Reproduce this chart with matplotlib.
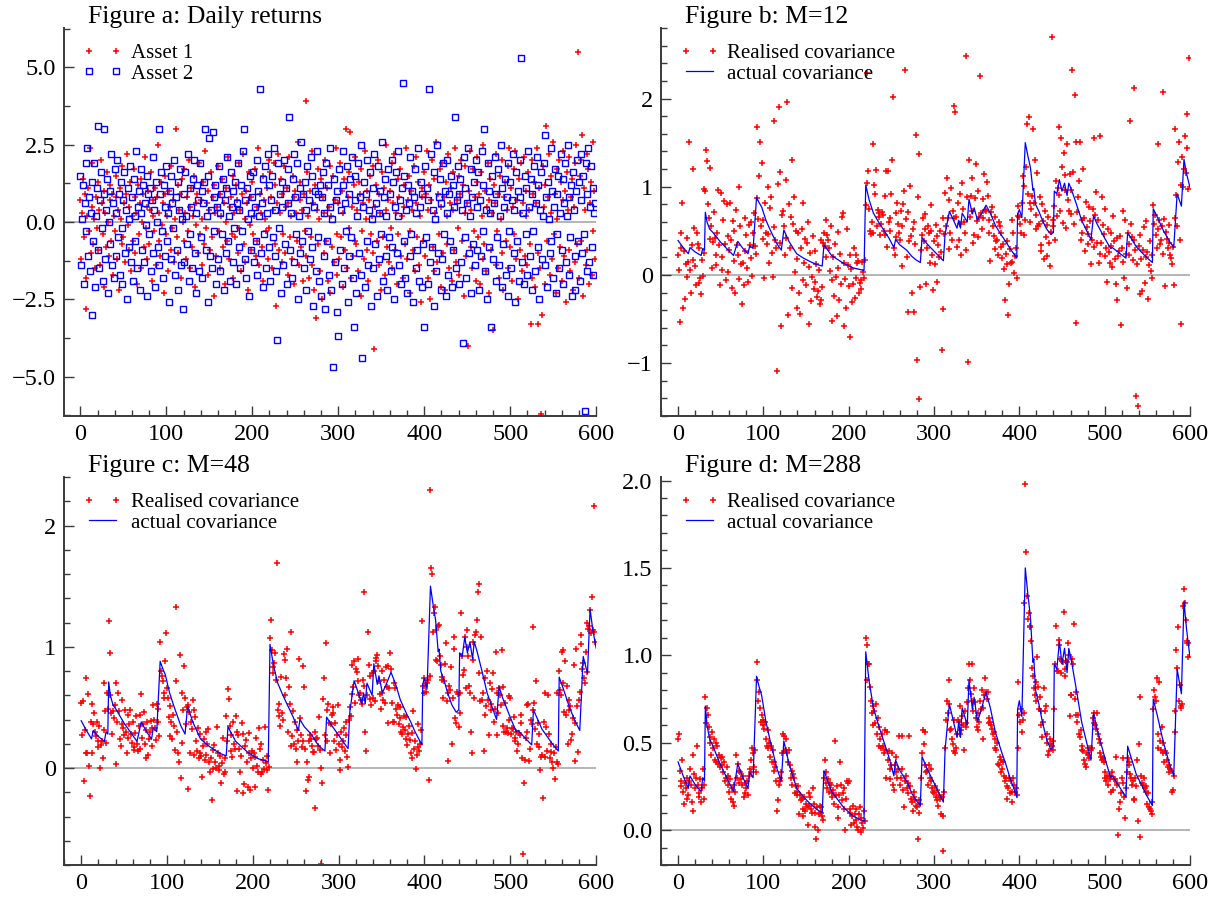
import numpy as np
import matplotlib
matplotlib.use("Agg")
import matplotlib.pyplot as plt
from matplotlib.ticker import MultipleLocator

plt.rcParams['font.family'] = ['Liberation Serif', 'DejaVu Serif']

asset1 = [
    0.7, -1.2, 0.3, 1.4, -0.5, 0.9, -1.8, -2.8, 0.2, 1.1, -0.3, 2.4, -1.0, 0.5, 1.9, -0.7, 0.1, -1.5, 0.8, -0.2,
    1.3, -0.9, 0.4, -1.4, 2.0, 0.6, -0.4, 1.0, -2.1, 0.3, -0.8, 1.6, 0.0, -1.1, 0.7, 1.2, -0.6, 0.9, -1.7, 0.2,
    -0.3, 1.5, 0.8, -1.2, 0.4, -2.2, 1.1, 0.1, -0.7, 1.8, -0.5, 0.6, -1.3, 0.9, 2.2, -0.1, -0.9, 0.5, 1.3, -1.6,
    0.2, -0.6, 1.7, -1.0, 0.8, 0.3, -2.0, 1.2, -0.4, 0.6, 1.4, -1.5, 0.0, 0.9, -0.8, 2.1, -0.2, 0.5, -1.2, 1.0,
    -0.7, 0.4, 1.6, -1.9, 0.2, 0.7, -0.3, 1.1, -1.4, 0.8, 2.5, -0.6, 0.3, -1.1, 1.3, -0.1, 0.6, -2.3, 0.9, 1.5,
    -0.4, 0.2, -1.6, 1.0, 0.5, -0.9, 1.8, -0.2, 0.7, -1.3, 0.1, 3.0, -0.5, 1.2, -1.0, 0.4, 0.9, -1.8, 1.4, 0.0,
    -0.6, 1.7, 0.3, -1.2, 0.8, -0.3, 2.0, -1.5, 0.5, 1.1, -0.8, 0.2, 1.5, -2.1, 0.6, -0.1, 0.9, -1.0, 1.9, -0.4,
    0.7, -1.4, 0.1, 1.3, -0.7, 2.3, -0.2, 0.6, -1.7, 1.0, 0.4, -0.9, 1.6, -0.5, 0.8, -2.4, 1.2, 0.3, -1.1, 0.5,
    1.8, -0.3, 0.9, -1.5, 0.2, 1.4, -0.8, 0.6, -2.0, 1.1, 0.0, -0.6, 2.1, -1.2, 0.5, 0.8, -0.4, 1.5, -1.8, 0.3,
    -0.5, 1.2, 0.7, -1.0, 1.9, -0.2, 0.4, -1.6, 0.9, 2.2, -0.7, 0.1, -1.3, 1.0, 0.6, -2.2, 1.6, -0.1, 0.8, -0.9,
    1.3, -0.4, 0.2, 1.7, -1.1, 0.5, -0.6, 2.4, -1.4, 0.9, 0.3, -0.8, 1.5, -1.9, 0.7, 0.1, -0.3, 1.1, -1.2, 2.0,
    -0.2, 1.6, 0.8, -1.5, 0.4, 1.9, -0.7, 1.2, -2.7, 0.6, 2.2, -0.9, 0.3, 1.4, -1.3, 0.9, -0.4, 1.8, -1.0, 0.5,
    1.1, -1.7, 0.6, 2.1, -0.5, 0.2, -1.2, 1.5, 0.8, -2.0, 1.0, 0.3, -0.6, 2.6, -1.4, 0.7, 1.3, -0.8, 0.4, -1.9,
    0.9, -0.3, 3.9, -1.1, 1.6, 0.2, -1.8, 1.0, -0.5, 2.3, -1.4, 0.6, -2.2, 1.2, -3.1, 0.4, 1.7, -0.7, 0.1, -1.6,
    1.4, -2.5, 0.8, 0.3, -1.0, 2.0, -0.6, 1.1, -1.9, 0.5, 1.8, -2.3, 0.2, -0.8, 1.5, -1.3, 0.7, 2.4, -0.4, -1.7,
    0.6, -1.2, 1.9, -0.5, 1.0, -2.1, 0.3, 1.4, -0.9, 3.0, -1.5, 0.8, -0.2, 1.6, 2.9, -1.8, 0.5, -1.1, 1.2, -0.6,
    2.1, -0.7, 0.4, -1.6, 1.3, 0.9, -2.4, 1.7, -0.3, 0.6, -1.2, 2.3, 0.1, -0.9, 1.0, -1.9, 0.7, 1.5, -0.4, 0.2,
    1.8, -1.0, -4.1, 0.5, 1.2, -0.6, 2.0, -1.4, 0.9, 0.3, -2.2, 1.6, -0.5, 1.1, -1.7, 0.4, 2.5, -0.8, 0.7, -1.3,
    1.0, -0.2, 1.9, -1.5, 0.6, 2.2, -0.9, 0.3, -2.0, 1.4, -0.4, 0.8, 1.7, -1.1, 0.2, -1.8, 1.2, 0.5, -0.7, 2.4,
    -1.2, 0.7, 1.5, -0.3, -2.3, 1.0, 0.4, -0.9, 1.8, -1.6, 0.6, 2.1, -0.5, 1.3, -1.4, 0.2, -2.6, 1.1, 0.8, -0.6,
    1.6, -1.1, 0.9, 2.3, -1.8, 0.4, 1.2, -2.5, 0.7, 2.0, -0.8, 1.4, -1.6, 0.3, 2.6, -1.3, 0.9, -0.4, 1.7, -2.1,
    0.5, 1.9, -1.0, 0.8, -2.2, 1.3, 0.2, -0.7, 2.2, -1.5, 0.6, 1.1, -1.9, 0.4, 1.6, -0.9, 2.4, -1.3, 0.7, -0.2,
    1.5, -1.7, 0.9, 2.0, -0.6, 1.2, -2.4, 0.3, 1.8, -1.1, 0.6, -4.0, 1.0, 2.3, -0.8, 0.4, -1.5, 1.7, -0.3, 0.8,
    -1.9, 1.3, 2.1, -0.5, 0.9, -2.0, 1.6, 0.2, -1.2, 2.5, -0.7, 1.0, -1.6, 0.5, 1.9, -2.3, 0.7, 1.4, -0.9, 0.3,
    -3.5, 1.2, 0.6, -1.4, 2.2, -0.3, 0.9, -1.8, 1.5, 0.1, -1.0, 2.0, -2.2, 0.8, 1.3, -0.6, 0.4, -1.5, 1.8, 2.4,
    -0.8, 1.1, -1.9, 0.5, 1.7, -0.4, 2.3, -1.2, 0.7, -2.5, 1.4, 0.3, -0.9, 1.9, -1.6, 0.6, 2.1, -1.1, 0.2, 1.0,
    -1.4, 1.6, 0.4, -0.7, -3.3, 2.0, -1.8, 0.9, 1.3, -2.1, 0.6, 2.4, -1.0, -3.3, 1.1, -1.5, -6.2, -3.0, 1.8, 0.5,
    -2.0, 1.2, 3.1, -0.6, 0.8, 2.2, -1.7, 0.3, 1.5, -1.2, 2.6, -0.4, 0.9, -2.3, 1.7, 0.1, -1.5, 2.0, -0.8, 1.3,
    -1.9, 0.7, 2.3, -1.1, 1.0, -2.6, 1.6, 0.4, -0.9, 2.1, -1.6, 0.8, 1.4, -2.2, 0.5, 1.9, -1.3, 2.5, -0.7, 5.5,
    -1.8, 1.5, -0.6, 2.0, 2.8, -2.4, 1.1, 0.4, -1.4, 2.2, -0.9, 1.7, -2.0, 0.6, 1.3, -1.7, 2.6, -0.3, 1.0, -1.2,
]
asset2 = [
    1.5, -1.4, 0.1, 1.2, -2.0, 0.6, -0.3, 1.9, 2.4, -1.1, 0.8, -1.6, 0.3, -3.0, 1.3, -0.6, 1.9, -2.1, 0.2, 1.1,
    -0.9, 3.1, -1.5, 0.7, 1.6, -0.2, -1.9, 0.9, 3.0, -1.2, 0.4, 1.4, -2.3, 0.0, 1.0, -0.7, 2.2, -1.4, 0.6, -1.8,
    1.7, 0.3, -1.1, 2.0, -0.5, 0.9, -1.7, 1.3, -0.2, -2.0, 0.7, 1.6, -1.0, 0.4, -2.5, 1.1, 0.1, -0.8, 1.8, -1.3,
    0.8, -1.9, 1.4, 0.2, -0.6, 2.3, -1.5, 0.5, 1.0, -2.2, 0.3, 1.7, -0.9, 1.2, -1.3, 0.6, -0.1, 1.5, -2.4, 0.9,
    -0.4, 1.1, -1.6, 0.7, 2.1, -1.0, 0.4, -2.1, 1.3, 0.0, -0.8, 3.0, -1.4, 0.9, 1.6, -0.3, -1.8, 1.2, 0.5, -1.1,
    1.8, -0.6, 0.3, -2.6, 1.0, 1.5, -1.2, 0.6, -0.2, 2.0, -1.7, 0.8, -0.9, 1.3, -2.2, 0.4, 1.7, -1.4, 0.1, -2.8,
    0.9, -1.3, 1.6, 0.2, -0.7, 2.2, -1.9, 1.1, -0.4, 0.5, -1.5, 1.4, 2.0, -1.0, 0.3, -2.3, 1.2, 0.7, -1.6, 1.9,
    -0.5, 1.0, -1.8, 0.6, 1.3, 3.0, -0.9, 0.2, -2.6, 1.5, 2.7, -1.1, 0.4, -1.5, 2.9, 0.8, -0.3, 1.2, -2.0, 0.5,
    -1.2, 1.8, 0.3, -1.6, 0.9, -0.4, 1.4, -2.2, 0.7, 1.1, -1.0, 2.1, -0.6, 0.2, -1.9, 1.6, 0.5, -1.3, 1.0, -0.2,
    1.3, -2.0, 0.6, 1.9, -0.8, 0.4, -1.5, 1.2, -0.3, 2.3, 3.0, -1.2, 0.7, -1.8, 1.1, 0.1, -2.4, 1.5, 0.3, -0.9,
    0.8, 1.6, -1.3, 0.5, -0.6, 2.0, -1.7, 1.0, 0.2, 4.3, -1.0, 0.6, -2.1, 1.4, -0.4, 1.8, -1.5, 0.3, 2.2, -0.8,
    1.2, -1.9, 0.7, 1.5, -0.5, 2.4, -1.1, 0.4, -1.6, -3.8, 1.9, -0.2, 0.9, -2.3, 1.3, 0.5, -1.4, 2.0, -0.7, 1.1,
    -2.0, 0.6, 1.7, 3.4, -0.9, 0.3, -1.8, 1.4, 2.2, -1.3, 0.8, -0.4, 1.9, -2.5, 0.2, 1.1, -1.0, 2.6, -0.6, 0.9,
    -1.5, 1.3, 0.4, -2.2, 1.8, -0.3, 0.7, -1.2, 2.1, -0.8, 1.5, -2.7, 0.5, 1.0, -1.6, 2.3, -0.5, 0.9, -1.9, 1.2,
    -2.4, 0.8, 1.6, -1.1, 0.3, -2.8, 1.9, -0.6, 1.2, -1.7, 0.5, 2.4, -2.2, 0.1, -4.7, 1.4, -1.3, 0.7, -2.9, 1.0,
    -3.7, 1.7, -0.9, 0.4, -2.0, 1.2, 2.3, -1.5, 0.6, -0.3, 1.8, -2.6, 0.9, -1.1, 1.4, -0.5, 2.1, -1.8, -3.4, 0.7,
    1.5, -2.3, 0.2, 1.9, -1.0, 0.8, -1.7, 2.5, -4.4, 0.5, 1.3, -2.1, 0.9, -0.6, 2.0, -1.4, 0.4, 1.6, -2.7, 0.1,
    1.1, -1.5, 2.2, -0.7, 0.6, -2.4, 1.8, 0.3, -1.2, 1.0, -0.4, 2.6, -1.9, 0.8, 1.4, -1.1, 0.2, -2.2, 1.7, -0.5,
    0.9, -1.6, 2.0, -0.8, 1.3, -2.5, 0.5, 1.6, -1.0, 0.2, 2.3, -1.4, 0.7, -2.0, 1.1, 4.5, -0.6, 1.5, -1.8, 0.4,
    -2.3, 1.2, 0.6, -1.1, 2.1, -0.4, 1.0, -2.6, 0.8, 1.7, -1.5, 0.3, -0.9, 2.4, -1.9, 0.5, 1.3, -2.1, 0.9, -0.7,
    -3.4, 1.8, -0.5, 1.1, -2.0, 0.7, 4.3, -1.3, 2.2, -0.8, 0.4, -2.7, 1.6, 0.1, -1.6, 2.5, -1.0, 0.8, 1.4, -2.2,
    0.6, -1.2, 1.9, -0.4, 1.0, -2.4, 0.3, 2.0, -1.7, 0.9, -0.6, 1.5, -2.1, 1.2, -0.9, 0.5, 3.4, -1.5, 0.7, 1.8,
    -2.0, 0.9, 1.4, -1.3, 0.4, -3.9, 2.1, -0.5, 1.1, -1.8, 0.6, 2.4, -1.0, 0.2, 1.7, -2.3, 0.8, -0.7, 1.3, -1.4,
    2.0, -0.9, 0.5, 1.6, -2.2, 0.7, -1.1, 2.3, -0.3, 1.2, 3.0, -1.6, 0.4, -2.5, 1.9, -0.8, 1.0, 0.3, -3.4, 1.5,
    -1.2, 0.6, 2.1, -1.9, 0.9, -0.5, 1.7, -1.4, 0.2, 2.5, -2.1, 1.1, -0.7, 0.5, 1.4, -1.7, 0.8, -2.4, 1.9, -0.3,
    1.3, -1.5, 0.7, 2.2, -1.0, 0.4, -2.6, 1.6, -0.6, 1.0, -1.9, 0.8, 2.0, 5.3, -1.3, 0.3, -2.0, 1.5, -0.4, 1.1,
    -1.7, 2.3, 0.5, -1.1, 1.4, -2.2, 0.9, -0.3, 1.8, -1.6, 0.6, 2.1, -0.8, 1.2, -2.5, 0.4, 1.6, -1.2, 0.2, 1.9,
    2.8, -1.4, 0.8, -2.1, 1.3, 0.1, -1.0, 2.4, -0.6, 1.0, -1.8, 0.5, 1.7, -2.3, 0.9, -0.4, 1.5, -1.5, 0.3, 2.2,
    -0.9, 1.4, -2.0, 0.6, 1.9, -1.3, 0.2, 2.5, -1.7, 0.8, -0.5, 1.2, -2.4, 1.6, 0.4, -1.1, -2.2, 1.0, 2.0, -0.6,
    1.3, -1.9, 0.7, 2.2, -1.0, 1.5, -0.4, -6.1, 1.9, -1.6, 0.9, 2.4, -1.3, 0.5, 1.8, -0.8, 1.1, -1.7, 0.3, 0.6,
]

# actual covariance: corners of the blue line (day, value)
cov_days = [0, 6, 12, 14, 20, 27, 29, 31, 32, 34, 37, 41, 45, 50, 55, 60, 65, 70, 76, 82,
            84, 88, 92, 95, 98, 103, 108, 116, 121, 124, 130, 139, 147, 155, 162, 169, 171, 180, 194, 205,
            218, 220, 224, 229, 235, 241, 247, 253, 255, 260, 268, 274, 279, 284, 286, 292, 299, 305, 311, 313,
            318, 321, 327, 329, 331, 333, 339, 341, 345, 347, 351, 356, 361, 366, 372, 379, 384, 389, 397, 398,
            400, 403, 407, 410, 413, 416, 417, 419, 423, 427, 432, 437, 440, 441, 444, 447, 450, 453, 456, 458,
            461, 467, 473, 479, 484, 487, 491, 496, 501, 507, 509, 517, 525, 527, 532, 537, 541, 549, 556, 557,
            562, 569, 576, 581, 585, 590, 593, 596, 600]
cov_vals = [0.39, 0.31, 0.24, 0.31, 0.26, 0.22, 0.30, 0.28, 0.71, 0.60, 0.52, 0.48, 0.43, 0.37, 0.32, 0.27, 0.22, 0.38, 0.30, 0.24,
            0.33, 0.30, 0.88, 0.82, 0.77, 0.62, 0.51, 0.35, 0.28, 0.51, 0.38, 0.24, 0.19, 0.15, 0.12, 0.10, 0.34, 0.22, 0.13, 0.08,
            0.05, 1.02, 0.85, 0.70, 0.60, 0.51, 0.42, 0.31, 0.40, 0.34, 0.28, 0.21, 0.17, 0.14, 0.42, 0.35, 0.28, 0.22, 0.16, 0.46,
            0.72, 0.66, 0.53, 0.62, 0.53, 0.70, 0.60, 0.86, 0.69, 0.76, 0.62, 0.70, 0.79, 0.70, 0.56, 0.45, 0.38, 0.30, 0.19, 0.69,
            0.74, 0.65, 1.50, 1.35, 1.22, 0.96, 0.98, 0.80, 0.72, 0.62, 0.52, 0.46, 0.48, 0.95, 0.92, 1.08, 0.95, 1.04, 0.90, 1.04,
            0.97, 0.80, 0.62, 0.50, 0.40, 0.67, 0.58, 0.49, 0.40, 0.30, 0.31, 0.25, 0.19, 0.48, 0.40, 0.32, 0.28, 0.20, 0.14, 0.75,
            0.65, 0.50, 0.38, 0.31, 0.92, 0.78, 1.31, 1.15, 0.99]

# realised covariance, one per day, in hundredths
rc12 = [
    22, 6, -54, 47, 30, 82, -37, 27, -27, 12, 42, -2, 15, 151, 5, -21, 34, 17, 120, 53,
    10, -11, 47, 35, -9, 30, -4, -22, 17, -1, 25, 97, 95, 142, 129, 80, 64, 121, 41, 56,
    8, 37, 71, 42, 22, 11, 48, 96, 34, -12, 93, 20, 5, 62, 84, 35, -6, 80, 44, 3,
    28, 82, 40, -15, 61, 16, 50, -20, 74, 34, 23, 100, -5, 55, 12, -33, 13, -11, 64, 27,
    45, 8, -8, 57, 34, 60, 19, -1, 48, 70, 33, 24, 168, 87, 63, 112, 151, 55, 127, 41,
    62, -3, 81, 48, 35, 100, 46, 13, 76, 88, 25, -2, 174, 54, 40, 30, -109, 103, 190, 36,
    117, -58, 68, 73, 55, 22, 108, 42, 196, -45, 80, 31, 66, 130, -15, 58, 88, 3, 50, -38,
    18, 47, -20, -44, 30, 52, -6, 82, 14, 41, -12, 36, 60, -56, 9, 25, -30, -2, 44, -16,
    27, -8, 12, -25, -18, 5, -33, -29, 40, -14, 36, 47, 33, 20, 62, 45, 40, 30, 4, 55,
    -6, -52, 20, -24, 35, -2, -47, 49, 8, -29, 24, -10, 66, 70, -58, 14, -5, -37, 52, 11,
    -13, 23, -71, 7, -31, -10, 30, -26, 22, -4, 14, 16, -21, -9, -16, -6, 15, 3, -3, 17,
    79, 229, 104, 118, 75, 50, 46, 60, 48, 148, 102, 92, 119, 56, 74, 66, 70, 45, 58, 71,
    68, 50, 89, 45, 118, 32, 118, 60, 65, 50, 92, 130, 202, 30, 23, 43, 70, 81, 58, 48,
    40, 73, 55, 10, 80, 95, 232, 63, 20, 71, -42, 38, 101, 44, -20, 52, -42, 60, 35, 159,
    -96, 88, -141, 137, -14, 28, 45, 65, 38, 52, 69, -10, 30, 55, 48, 14, 79, 50, 23, -17,
    38, 12, 57, 44, -8, 34, 20, 50, 26, -85, 64, -39, 46, 93, 55, 110, 64, 29, 85, 48,
    99, 40, 73, 64, 192, 185, 66, 32, 81, 40, 92, 58, 22, 104, 75, 60, 47, 28, 248, 88,
    -99, 130, 66, 89, 110, 72, 36, 45, 87, 126, 61, 95, 43, 66, 226, 70, 52, 86, 64, 114,
    74, 73, 105, 90, 62, 48, 16, 71, 77, 55, 44, 29, 66, 38, 40, 23, 60, 56, 32, 47,
    19, 35, 7, -28, 24, 12, 38, -45, -10, 29, 13, 62, 15, 48, 2, 21, 30, -4, 67, 78,
    66, 58, 48, 81, 112, 45, 101, 62, 122, 171, 92, 179, 60, 81, 75, 90, 166, 82, 130, 52,
    68, 116, 55, 58, 88, 34, 27, 80, 61, 18, 72, 43, 57, 21, 66, 36, 10, 49, 270, 55,
    62, 78, 40, 106, 67, 98, 91, 168, 72, 155, 122, 59, 138, 96, 113, 53, 148, 85, 72, 114,
    96, 69, 232, 117, 58, 204, -55, 151, 71, 88, 106, 151, 40, 62, 48, 120, 65, 27, 83, 54,
    35, 46, 77, 61, 12, 40, 75, 32, 155, 68, 94, 36, 62, 14, 157, 24, 36, 88, 57, 46,
    21, 75, 30, -8, 52, 26, 14, 48, 33, 9, 67, 38, 18, -10, -29, 42, 21, 27, 44, -57,
    30, 15, 73, -4, 62, 24, -15, 48, 35, 22, 174, 58, 43, 17, 39, 212, 28, -137, 12, -149,
    33, -22, 45, 18, -18, 28, 54, -9, 20, 61, 26, -27, 11, 38, 4, -3, 22, 79, 58, 68,
    45, 30, 149, 52, 62, 35, 40, 56, 207, 24, 63, -13, 49, 41, 30, 36, 57, 22, 19, 12,
    32, -11, 65, 166, 91, 55, 128, 151, 40, 102, -56, 134, 100, 120, 158, 115, 144, 182, 97, 246,
]
rc48 = [
    54, 27, 55, -11, 31, 12, 74, 12, 61, 2, -23, 38, 53, 12, 36, 45, 30, 26, 38, 17,
    22, 35, 0, 19, 22, 8, 70, 31, 47, 21, 62, 49, 121, 60, 95, 45, 28, 47, 41, 52,
    3, 70, 38, 62, 47, 24, 18, 36, 56, 33, 27, 48, 30, 12, 44, 25, 36, 48, 28, 21,
    38, 17, 15, 29, 43, 20, 14, 35, 44, 16, 61, 25, 36, 46, 20, 8, 31, 38, 11, 24,
    30, 39, 33, 18, 52, 40, 33, 23, 53, 38, 49, 26, 104, 80, 76, 72, 58, 62, 88, 111,
    66, 58, 42, 51, 26, 38, 24, 44, 35, 15, 72, 133, 30, 12, 5, 93, -8, 62, 21, 48,
    84, 58, 36, 50, 52, -17, 46, 12, 38, 32, 56, 48, 11, 42, 22, 14, 33, 8, 12, 28,
    10, -7, 18, 24, 7, 30, 11, 20, 32, 5, -3, 8, -26, 15, -1, 19, 5, 0, 34, 12,
    -2, 2, 10, -12, 4, 25, -5, 8, -3, 43, 22, 65, 57, 35, 14, 27, 9, 38, 20, 16,
    43, -19, 30, 27, 16, -3, 10, 37, -21, 28, -13, 18, 23, 5, -16, 29, 12, -18, 8, 14,
    0, 12, -16, 9, 25, 2, -3, 33, 16, -5, 20, -3, 7, -1, 34, 4, -2, 10, -18, 1,
    107, 122, 97, 78, 83, 87, 95, 73, 169, 48, 53, 43, 35, 75, 45, 40, 94, 89, 60, 74,
    98, 30, 67, 53, 18, 112, 26, 47, 20, 38, 16, 5, 31, 22, 90, 41, 27, 17, 22, 84,
    67, 16, -19, 5, -10, 22, -7, 27, 24, 18, 13, 13, -33, 30, 24, 25, 18, 42, 15, -79,
    0, -12, 57, 74, 27, 103, 48, 22, 53, 37, 12, 36, 44, 45, 50, 22, 37, 15, 27, 52,
    20, -2, 7, 30, 17, 22, 33, 14, 27, 38, 9, 1, 40, 50, 43, 61, 85, 67, 88, 54,
    82, 79, 72, 90, 60, 62, 56, 53, 73, 68, 145, 30, 14, 60, 112, 85, 57, 76, 52, 78,
    58, 80, 55, 88, 91, 93, 84, 72, 61, 49, 80, 62, 56, 73, 54, 83, 67, 84, 37, 66,
    95, 82, 54, 38, 38, 70, 66, 49, 44, 52, 36, 41, 50, 30, 28, 34, 43, 31, 42, 24,
    19, 28, 35, 23, 12, 8, 29, 47, 16, 22, -1, 11, 36, 17, 14, 20, 31, 121, 68, 62,
    74, 68, 63, 70, 73, -10, 76, 229, 165, 160, 112, 128, 133, 89, 114, 88, 117, 118, 92, 85,
    75, 73, 58, 72, 86, 103, 55, 6, 62, 68, 64, 83, 20, 58, 108, 98, 41, 37, 63, 61,
    34, 45, 62, 128, 92, 77, 81, 108, 66, 100, 114, 92, 68, 62, 30, 12, 89, 104, 58, 110,
    112, 122, 145, 78, 152, 55, 108, 56, 62, 14, 74, 44, 51, 80, 56, 27, 70, 48, 53, 65,
    78, 38, 49, 96, 27, 62, 45, 66, 60, 52, 97, 35, 67, 30, 54, 30, 33, 29, 59, 40,
    58, 28, 33, 32, 42, 22, 25, 30, 14, 20, 29, 27, 44, 37, 8, -71, -12, 7, 25, 52,
    30, 53, 6, 16, 40, 36, 48, 116, 54, 32, 72, 20, 37, 28, 17, -2, 9, 11, -25, 38,
    62, 9, 34, 14, 60, 28, 8, 13, 20, 5, 0, 12, -9, 17, 62, 5, 3, 80, 64, 60,
    96, 97, 70, 46, 88, 44, 68, 20, 56, 48, 51, 23, 28, 41, 85, 6, 37, 98, 51, 13,
    56, 63, 102, 110, 82, 87, 74, 70, 96, 120, 79, 115, 117, 130, 111, 141, 114, 216, 112, 104,
]
rc288 = [
    52, 55, 34, 28, 25, 40, 22, 15, 27, 24, 18, 30, 20, 28, 35, 26, 16, 43, 11, 32,
    24, 30, 48, 26, 19, 21, 29, 16, 24, 35, 18, 26, 76, 61, 70, 66, 59, 50, 53, 43,
    56, 47, 52, 40, 50, 39, 48, 38, 43, 36, 41, 42, 37, 33, 39, 28, 30, 36, 26, 31,
    22, 29, 18, 24, 16, 14, 26, 22, 43, 30, 38, 34, 27, 33, 29, 26, 31, 19, 27, 21,
    24, 28, 20, 31, 35, 33, 40, 47, 44, 36, 46, 33, 86, 96, 74, 79, 70, 62, 66, 60,
    63, 58, 62, 52, 48, 57, 47, 50, 42, 48, 39, 46, 34, 39, 36, 28, 11, 17, 26, 30,
    28, 33, 44, 55, 54, 45, 52, 46, 44, 39, 46, 37, 30, 34, 26, 32, 30, 21, 25, 20,
    22, 25, 9, 20, 17, 18, 12, 8, 19, 11, 15, 13, 3, 21, 14, 19, 12, 10, 24, 15,
    10, 2, -5, 13, 0, 9, 14, 13, 10, 8, 6, 30, 40, 33, 27, 24, 29, 22, 27, 26,
    21, 19, 23, 15, 51, 20, 25, 13, 7, 20, 39, 26, 17, 21, 24, 12, 0, 18, 28, 27,
    28, 12, 10, 3, 8, 14, 4, 9, 12, 6, 2, 0, 9, 13, -1, 7, 4, 1, 11, 5,
    110, 106, 86, 95, 95, 82, 74, 67, 60, 71, 68, 61, 72, 55, 64, 59, 48, 52, 47, 55,
    48, 44, 57, 46, 30, 56, 40, 45, 35, 29, 37, 44, 26, 23, 37, 42, 33, 30, 35, 54,
    26, 30, 54, 35, 23, 13, 28, 31, 24, 21, 27, 54, 25, 18, 16, 11, 22, 19, 17, 14,
    13, -5, 17, 10, 15, 30, 44, 57, 49, 56, 37, 33, 34, 26, 37, 30, 35, 28, 24, 22,
    21, 25, 19, 17, 23, 14, 20, 18, 9, 19, 8, -12, 22, 47, 63, 74, 67, 86, 72, 57,
    58, 52, 49, 45, 63, 44, 47, 55, 63, 62, 55, 71, 57, 65, 60, 46, 68, 59, 61, 73,
    81, 95, 86, 78, 74, 95, 68, 81, 73, 64, 59, 57, 67, 62, 74, 69, 80, 70, 52, 77,
    87, 79, 75, 79, 64, 61, 62, 60, 58, 55, 56, 52, 47, 46, 50, 38, 37, 42, 40, 33,
    35, 39, 31, 28, 30, 25, 18, 24, 30, 21, 28, 22, 16, 30, 26, 22, 24, 20, 47, 85,
    66, 62, 69, 56, 63, 67, 130, 198, 159, 134, 121, 124, 117, 116, 108, 93, 88, 81, 77, 85,
    74, 99, 82, 69, 76, 60, 68, 53, 62, 81, 68, 71, 50, 55, 43, 45, 52, 49, 48, 51,
    46, 69, 95, 117, 91, 91, 106, 109, 98, 90, 97, 96, 125, 88, 92, 97, 96, 107, 100, 65,
    77, 77, 98, 95, 118, 75, 79, 66, 62, 66, 55, 53, 57, 48, 46, 45, 40, 38, 36, 44,
    43, 47, 41, 47, 46, 47, 64, 61, 67, 60, 58, 67, 55, 52, 50, 44, 42, 40, 41, 39,
    33, 30, 28, 31, 26, 31, 29, 31, 22, 33, 23, 29, 29, 42, 26, 27, -3, 12, 16, 21,
    30, 27, 41, 19, 7, 24, 33, 41, 39, 37, 32, 30, 26, 28, 18, 17, 30, 25, 40, 5,
    49, 76, -4, 31, 27, 26, 30, 24, 25, 22, 15, 21, 13, 12, 11, 9, 16, 69, 80, 76,
    74, 87, 55, 47, 85, 51, 46, 59, 50, 44, 39, 45, 44, 40, 36, 37, 33, 35, 34, 22,
    23, 31, 68, 56, 103, 93, 116, 74, 83, 70, 71, 72, 128, 138, 130, 120, 107, 108, 99, 107,
]

red = '#ff0000'
blue = '#0000ff'
axis_grey = '#3a3a3a'

fig = plt.figure(figsize=(12.27, 9.09), dpi=100)


def setup(ax, title, ymin, ymax, ymajor, yminor, xleft):
    ax.set_xlim(xleft, 600)
    ax.set_ylim(ymin, ymax)
    ax.axhline(0, color='#a0a0a0', lw=1.1, zorder=0)
    ax.spines['top'].set_visible(False)
    ax.spines['right'].set_visible(False)
    for s in ['left', 'bottom']:
        ax.spines[s].set_color(axis_grey)
        ax.spines[s].set_linewidth(1.4)
    ax.xaxis.set_major_locator(MultipleLocator(100))
    ax.xaxis.set_minor_locator(MultipleLocator(20))
    ax.yaxis.set_major_locator(MultipleLocator(ymajor))
    ax.yaxis.set_minor_locator(MultipleLocator(yminor))
    ax.tick_params(which='both', direction='in', color=axis_grey, width=1.0,
                   labelsize=17.5, pad=6)
    ax.tick_params(which='major', length=7.5)
    ax.tick_params(which='minor', length=4)
    ax.text(0.045, 1.012, title, transform=ax.transAxes, fontsize=18.5,
            ha='left', va='baseline')


def add_legend(ax):
    ax.legend(loc='upper left', bbox_to_anchor=(0.035, 0.96), frameon=False,
              fontsize=15, numpoints=2, handlelength=1.9, handletextpad=0.4,
              labelspacing=0.05, borderpad=0, borderaxespad=0)


# Figure a
ax = fig.add_axes([0.0522, 0.5424, 0.4336, 0.4268])
setup(ax, 'Figure a: Daily returns', -6.27, 6.27, 2.5, 1.25, -19)
ax.plot(np.arange(len(asset1)), asset1, '+', color=red, ms=5, mew=1.1, label='Asset 1')
ax.plot(np.arange(len(asset2)), asset2, 's', mfc='none', mec=blue, ms=4.7, mew=1.0,
        label='Asset 2')
add_legend(ax)

panels = [
    ([0.5387, 0.5424, 0.4311, 0.4268], 'Figure b: M=12', rc12, -1.6, 2.8, 1, 0.2),
    ([0.0522, 0.0484, 0.4336, 0.4268], 'Figure c: M=48', rc48, -0.8, 2.4, 1, 0.2),
    ([0.5387, 0.0484, 0.4311, 0.4268], 'Figure d: M=288', rc288, -0.2, 2.02, 0.5, 0.1),
]
for pos, title, rc, ymin, ymax, ymajor, yminor in panels:
    ax = fig.add_axes(pos)
    setup(ax, title, ymin, ymax, ymajor, yminor, -20)
    ax.plot(np.arange(len(rc)), np.array(rc) / 100, '+', color=red, ms=5, mew=1.1,
            label='Realised covariance')
    ax.plot(cov_days, cov_vals, '-', color=blue, lw=0.9, label='actual covariance')
    add_legend(ax)

fig.savefig('out.png', dpi=100)
